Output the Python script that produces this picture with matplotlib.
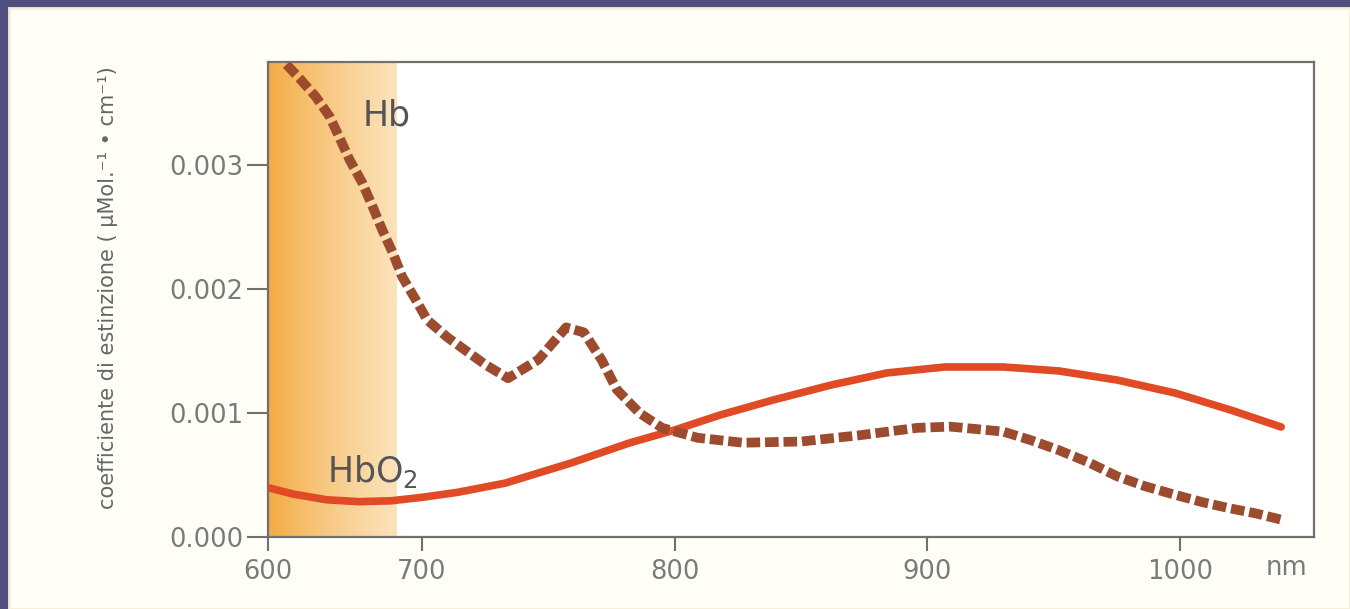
import numpy as np
import matplotlib
matplotlib.use("Agg")
import matplotlib.pyplot as plt
from matplotlib.patches import Rectangle
from matplotlib.colors import LinearSegmentedColormap
from matplotlib.ticker import FormatStrFormatter

# --- data (wavelength in nm, coefficient x1e-3 uMol^-1 cm^-1) ---
hb_nm = [612, 621, 631, 640, 646, 653, 661, 668, 674, 681, 687, 696, 702, 710,
         725, 734, 746, 757, 764, 771, 777, 786, 795, 809, 827, 850, 873, 896,
         909, 930, 941, 952, 964, 975, 986, 998, 1009, 1020, 1030, 1040]
hb_val = [3.81, 3.69, 3.55, 3.39, 3.23, 3.04, 2.86, 2.66, 2.48, 2.29, 2.10, 1.91,
          1.75, 1.61, 1.39, 1.28, 1.43, 1.69, 1.65, 1.43, 1.19, 1.00, 0.88, 0.80,
          0.76, 0.77, 0.82, 0.88, 0.89, 0.85, 0.78, 0.70, 0.60, 0.49, 0.41, 0.34,
          0.28, 0.23, 0.19, 0.14]

hbo2_nm = [601, 616, 638, 659, 680, 700, 714, 733, 759, 782, 800, 818, 839, 862,
           884, 907, 930, 952, 975, 998, 1020, 1040]
hbo2_val = [0.395, 0.347, 0.300, 0.285, 0.292, 0.320, 0.360, 0.435, 0.597, 0.758,
            0.863, 0.984, 1.105, 1.226, 1.323, 1.371, 1.371, 1.339, 1.266, 1.161,
            1.024, 0.887]

x_ticks = [600, 700, 800, 900, 1000]
y_ticks = [0.000, 0.001, 0.002, 0.003]
band_nm = (600, 684)   # shaded window
y_top = 0.00383

hb_val = np.array(hb_val) * 1e-3
hbo2_val = np.array(hbo2_val) * 1e-3

# the 600-700 stretch of the axis is drawn compressed in the original
SQ = 0.61
def fwd(x):
    x = np.asarray(x, dtype=float)
    return np.where(x < 700, 700 - (700 - x) * SQ, x)
def inv(x):
    x = np.asarray(x, dtype=float)
    return np.where(x < 700, 700 - (700 - x) / SQ, x)

fig = plt.figure(figsize=(13.5, 6.09), dpi=100, facecolor="#4f4e7f")
panel = Rectangle((9 / 1350, 0), 1 - 9 / 1350, 1 - 8 / 609,
                  transform=fig.transFigure, facecolor="#fffef7",
                  edgecolor="#f7efd2", lw=2, zorder=-10)
fig.patches.append(panel)

ax = fig.add_axes([268 / 1350, 72 / 609, 1046 / 1350, 475 / 609])
ax.set_zorder(5)
ax.set_facecolor("white")
ax.set_xscale("function", functions=(fwd, inv))

# orange gradient band
cmap = LinearSegmentedColormap.from_list(
    "band", ["#f3ab45", "#f6bd68", "#f8cb88", "#fad8a3", "#fce3bd"])
grad = np.linspace(0, 1, 200).reshape(1, -1)
ax.imshow(grad, cmap=cmap, aspect="auto", extent=(band_nm[0], band_nm[1], 0, y_top),
          zorder=1, interpolation="bilinear")
ax.set_xlim(600, 1053)
ax.set_ylim(0, y_top)

ax.plot(hbo2_nm, hbo2_val, color="#e04a24", lw=5.5, solid_capstyle="round",
        solid_joinstyle="round", zorder=3)
ax.plot(hb_nm, hb_val, color="#9c4b2e", lw=7, dashes=(1.4, 0.5),
        dash_capstyle="butt", zorder=4)

ax.text(677, 0.00340, "Hb", fontsize=25, color="#555555", ha="center", va="center", zorder=5)
ax.text(638, 0.00044, "HbO$_2$", fontsize=25, color="#555555", ha="left",
        va="baseline", zorder=5)

for s in ax.spines.values():
    s.set_color("#707070")
    s.set_linewidth(1.6)

ax.set_xticks(x_ticks)
ax.set_xticklabels([str(t) for t in x_ticks])
ax.set_yticks(y_ticks)
ax.yaxis.set_major_formatter(FormatStrFormatter("%.3f"))
ax.tick_params(axis="y", direction="out", length=15, width=1.5, color="#707070",
               labelsize=18.5, labelcolor="#7a7a7a", pad=3)
ax.tick_params(axis="x", direction="out", length=10, width=1.5, color="#707070",
               labelsize=18.5, labelcolor="#7a7a7a", pad=6)
ax.minorticks_off()

ax.text(0.974, -0.066, "nm", transform=ax.transAxes, fontsize=18.5,
        color="#7a7a7a", ha="center", va="center")

fig.text(108 / 1350, 1 - 288 / 609,
         "coefficiente di estinzione ( \u00b5Mol.\u207b\u00b9 \u2022 cm\u207b\u00b9)",
         rotation=90, ha="center", va="center", fontsize=15, color="#666666")

fig.savefig("out.png", dpi=100, facecolor=fig.get_facecolor())
